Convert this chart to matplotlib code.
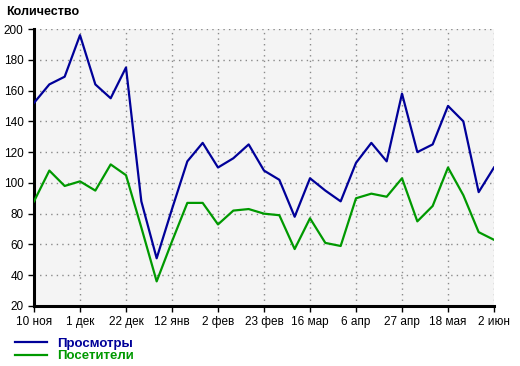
import matplotlib
matplotlib.use('Agg')
from matplotlib import pyplot as plt

views = [152, 164, 169, 196, 164, 155, 175, 88, 51, 83, 114, 126, 110, 116, 125, 108,
         102, 78, 103, 95, 88, 113, 126, 114, 158, 120, 125, 150, 140, 94, 110]
visitors = [88, 108, 98, 101, 95, 112, 105, 71, 36, 62, 87, 87, 73, 82, 83, 80,
            79, 57, 77, 61, 59, 90, 93, 91, 103, 75, 85, 110, 92, 68, 63]
tick_labels = ['10 ноя', '1 дек', '22 дек', '12 янв', '2 фев', '23 фев',
               '16 мар', '6 апр', '27 апр', '18 мая', '2 июн']

plt.rcParams['font.family'] = ['Liberation Sans', 'DejaVu Sans']

fig = plt.figure(figsize=(5.2, 3.66), dpi=100)
ax = fig.add_axes([34 / 520, 1 - 306 / 366, 460 / 520, 277 / 366])
ax.set_facecolor('#f4f4f4')

weeks = list(range(len(views)))
ax.plot(weeks, views, color='#000099', lw=1.6, label='Просмотры', zorder=3)
ax.plot(weeks, visitors, color='#009900', lw=1.6, label='Посетители', zorder=3)

ax.set_xlim(0, len(views) - 1)
ax.set_ylim(20, 200)
ax.set_yticks(range(20, 201, 20))
ax.set_xticks(weeks[::3])
ax.set_xticklabels(tick_labels)
ax.tick_params(labelsize=8.5, length=4, width=1, direction='out', colors='black')
ax.grid(True, color='#8a8a8a', linestyle=(0, (1, 3)), lw=1)

for s in ['top', 'right']:
    ax.spines[s].set_visible(False)
for s in ['left', 'bottom']:
    ax.spines[s].set_linewidth(2.2)

fig.text(6 / 520, 1 - 12 / 366, 'Количество', fontsize=9, fontweight='bold', va='center')

leg = fig.legend(loc='upper left', bbox_to_anchor=(10 / 520, 1 - 332 / 366),
                 frameon=False, labelcolor='linecolor', handlelength=2.4,
                 handletextpad=0.8, labelspacing=0.05, borderaxespad=0,
                 prop={'weight': 'bold', 'size': 9.5})

fig.savefig('out.png', dpi=100)
